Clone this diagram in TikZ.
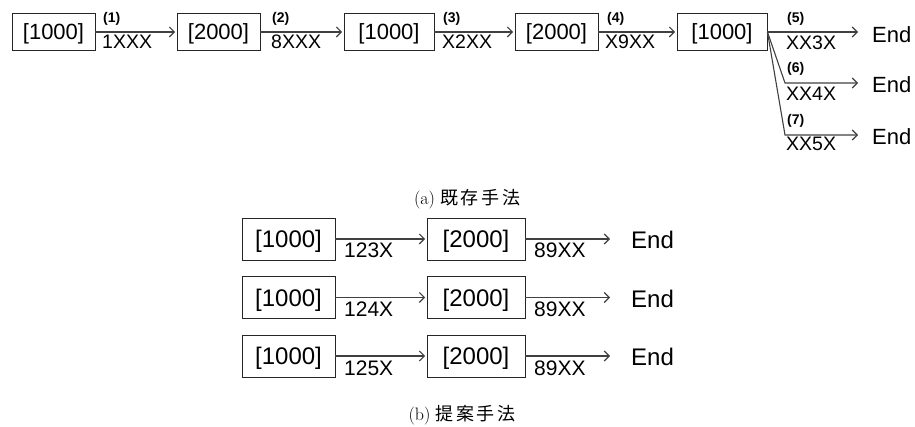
\documentclass[tikz,border=0pt]{standalone}
\usepackage{fontspec}
\usetikzlibrary{arrows.meta}
\newfontfamily\arialf{Liberation Sans}
\newfontfamily\cjkf[LetterSpace=14]{Noto Sans CJK JP}
\tikzset{
  box/.style={draw=black!85, line width=0.9pt, minimum height=37pt, inner sep=0pt, text height=15.7pt, text depth=0pt, font=\arialf\fontsize{22}{24}\selectfont},
  bbox/.style={draw=black!85, line width=0.9pt, minimum height=42pt, inner sep=0pt, text height=17.2pt, text depth=0pt, font=\arialf\fontsize{24}{26}\selectfont},
  arr/.style={draw=black!75, line width=1.1pt, -{Straight Barb[length=5pt,width=10pt]}},
  num/.style={anchor=base west, inner sep=0pt, font=\arialf\bfseries\fontsize{14}{16}\selectfont},
  code/.style={anchor=base west, inner sep=0pt, font=\arialf\fontsize{19.5}{22}\selectfont},
  bcode/.style={anchor=base west, inner sep=0pt, font=\arialf\fontsize{21}{23}\selectfont},
  endt/.style={anchor=west, inner sep=0pt, text height=15.7pt, text depth=0pt, font=\arialf\fontsize{22}{24}\selectfont},
  bendt/.style={anchor=west, inner sep=0pt, text height=17.2pt, text depth=0pt, font=\arialf\fontsize{24}{26}\selectfont},
  captiontext/.style={anchor=base, inner sep=0pt, font=\fontsize{18}{20}\selectfont}
}
\begin{document}
\begin{tikzpicture}[x=1pt,y=-1pt]
\useasboundingbox (0,0) rectangle (915,427);
% ---- (a) top row
\node[box, minimum width=83pt] (t1) at (53.5,32) {[1000]};
\node[box, minimum width=83pt] (t2) at (218.5,32) {[2000]};
\node[box, minimum width=90pt] (t3) at (389,32) {[1000]};
\node[box, minimum width=83pt] (t4) at (556.5,32) {[2000]};
\node[box, minimum width=90pt] (t5) at (722,32) {[1000]};
\node[endt] (e5) at (872,34.5) {End};
\node[endt] (e6) at (872,84.5) {End};
\node[endt] (e7) at (872,136.5) {End};
\coordinate (k6) at (785,83);
\coordinate (k7) at (785,135);
\draw[arr, shorten >=1.5pt] (t1.east) -- (t2.west);
\draw[arr, shorten >=1.5pt] (t2.east) -- (t3.west);
\draw[arr, shorten >=1.5pt] (t3.east) -- (t4.west);
\draw[arr, shorten >=1.5pt] (t4.east) -- (t5.west);
\draw[arr, shorten >=14pt] (t5.east) -- (e5.west |- t5.east);
\draw[arr, shorten >=14pt] (t5.east) -- (k6) -- (e6.west |- k6);
\draw[arr, shorten >=14pt] (t5.east) -- (k7) -- (e7.west |- k7);
\node[num] (n1) at (103,23) {(1)};
\node[code] (c1) at (102,49) {1XXX};
\node[num] (n2) at (272,23) {(2)};
\node[code] (c2) at (271,49) {8XXX};
\node[num] (n3) at (443,23) {(3)};
\node[code] (c3) at (442,49) {X2XX};
\node[num] (n4) at (607,23) {(4)};
\node[code] (c4) at (605,49) {X9XX};
\node[num] (n5) at (787,23) {(5)};
\node[code] (c5) at (786,50) {XX3X};
\node[num] (n6) at (787,73) {(6)};
\node[code] (c6) at (786,101) {XX4X};
\node[num] (n7) at (787,125) {(7)};
\node[code] (c7) at (786,151) {XX5X};
\node[captiontext] (capa) at (467,205) {(a)~{\cjkf 既存手法}};
% ---- (b)
\foreach \r/\y/\lab in {1/239/123X, 2/297.5/124X, 3/356/125X} {
  \node[bbox, minimum width=93pt] (a\r) at (288.5,\y) {[1000]};
  \node[bbox, minimum width=98pt] (b\r) at (476,\y) {[2000]};
  \node[bendt] (be\r) at (631,\y+1) {End};
  \draw[arr, shorten >=1.5pt] (a\r.east) -- (b\r.west);
  \draw[arr, shorten >=21pt] (b\r.east) -- (be\r.west |- b\r.east);
  \node[bcode] (l\r) at (344,\y+19) {\lab};
  \node[bcode] (m\r) at (534,\y+19) {89XX};
}
\node[captiontext] (capb) at (462,420) {(b)~{\cjkf 提案手法}};
\end{tikzpicture}
\end{document}
